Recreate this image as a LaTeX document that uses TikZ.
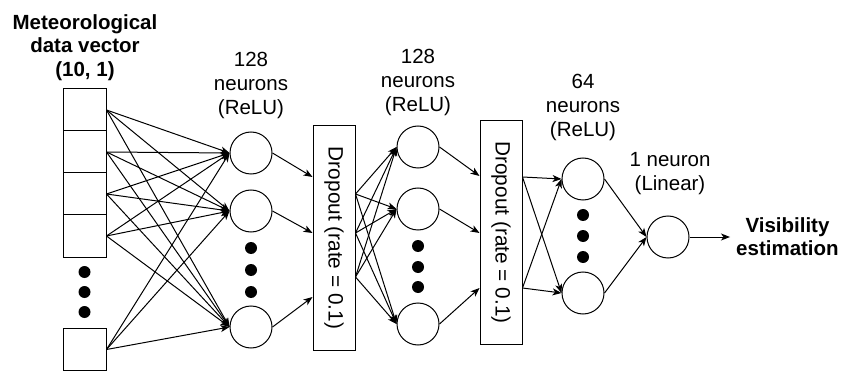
\documentclass[tikz,border=0pt]{standalone}
\usepackage{fontspec}
\setmainfont{Liberation Sans}
\usetikzlibrary{arrows.meta,calc}

\tikzset{
  neuron/.style={circle, draw, line width=1pt, minimum size=42pt, inner sep=0pt},
  cell/.style={rectangle, draw, line width=1pt, minimum width=43pt, minimum height=42pt, inner sep=0pt},
  dropbox/.style={rectangle, draw, line width=1pt, minimum width=42pt, minimum height=224pt, inner sep=0pt,
    font=\fontsize{20.8}{24}\selectfont},
  dot/.style={circle, fill, minimum size=12pt, inner sep=0pt},
  link/.style={line width=1pt, -{Stealth[length=9pt,width=7pt,inset=2.5pt]}},
  plain/.style={font=\fontsize{20.5}{24}\selectfont, align=center, inner sep=0pt, anchor=north},
  heading/.style={font=\bfseries\fontsize{20.5}{23.6}\selectfont, align=center, inner sep=0pt, anchor=north},
}

\begin{document}
\begin{tikzpicture}[x=1pt,y=-1pt]
\useasboundingbox (0,0) rectangle (842,371);

% input vector
\node[heading] (title) at (85,14) {Meteorological\\data vector\\(10, 1)};
\node[cell] (in1) at (84.5,110) {};
\node[cell] (in2) at (84.5,152) {};
\node[cell] (in3) at (84.5,194) {};
\node[cell] (in4) at (84.5,236) {};
\node[cell] (in5) at (84.5,349.5) {};
\node[dot] (ind1) at (84.5,272) {};
\node[dot] (ind2) at (84.5,292) {};
\node[dot] (ind3) at (84.5,312) {};

% first dense layer
\node[plain] (lab1) at (251,52.2) {128\\neurons\\(ReLU)};
\node[neuron] (c11) at (251,153) {};
\node[neuron] (c12) at (251,211) {};
\node[neuron] (c13) at (251,327) {};
\node[dot] (c1d1) at (251,248) {};
\node[dot] (c1d2) at (251,270) {};
\node[dot] (c1d3) at (251,292) {};

% first dropout
\node[dropbox] (d1) at (334,238) {\rotatebox{-90}{Dropout (rate = 0.1)}};

% second dense layer
\node[plain] (lab2) at (418,48.5) {128\\neurons\\(ReLU)};
\node[neuron] (c21) at (418,147) {};
\node[neuron] (c22) at (418,209) {};
\node[neuron] (c23) at (418,324) {};
\node[dot] (c2d1) at (418,246) {};
\node[dot] (c2d2) at (418,267) {};
\node[dot] (c2d3) at (418,287) {};

% second dropout
\node[dropbox, minimum height=223pt] (d2) at (501,232.5) {\rotatebox{-90}{Dropout (rate = 0.1)}};

% third dense layer
\node[plain] (lab3) at (583,73.5) {64\\neurons\\(ReLU)};
\node[neuron] (c31) at (583,179) {};
\node[neuron] (c32) at (583,293) {};
\node[dot] (c3d1) at (583,215) {};
\node[dot] (c3d2) at (583,236) {};
\node[dot] (c3d3) at (583,257) {};

% output neuron
\node[plain] (lab4) at (670,152) {1 neuron\\(Linear)};
\node[neuron] (out) at (668,237) {};
\coordinate (res) at (730,237);
\node[heading, anchor=west] (vis) at (736,236.5) {Visibility\\estimation};

% ports on the dropout boxes
\coordinate (d1i1) at ($(d1.west)+(0,-61)$);
\coordinate (d1i2) at ($(d1.west)+(0,-5)$);
\coordinate (d1i3) at ($(d1.west)+(0,59)$);
\coordinate (d1o1) at ($(d1.east)+(0,-44)$);
\coordinate (d1o2) at ($(d1.east)+(0,-5)$);
\coordinate (d1o3) at ($(d1.east)+(0,39)$);
\coordinate (d2i1) at ($(d2.west)+(0,-56.5)$);
\coordinate (d2i2) at ($(d2.west)+(0,0.5)$);
\coordinate (d2i3) at ($(d2.west)+(0,55.5)$);
\coordinate (d2o1) at ($(d2.east)+(0,-55.5)$);
\coordinate (d2o2) at ($(d2.east)+(0,55.5)$);

% connections
\foreach \s in {in1,in2,in3,in4,in5}
  \foreach \t in {c11,c12,c13}
    \draw[link] (\s.east) -- (\t.west);
\draw[link] (c11.east) -- (d1i1);
\draw[link] (c12.east) -- (d1i2);
\draw[link] (c13.east) -- (d1i3);
\foreach \s in {d1o1,d1o2,d1o3}
  \foreach \t in {c21,c22,c23}
    \draw[link] (\s) -- (\t.west);
\draw[link] (c21.east) -- (d2i1);
\draw[link] (c22.east) -- (d2i2);
\draw[link] (c23.east) -- (d2i3);
\foreach \s in {d2o1,d2o2}
  \foreach \t in {c31,c32}
    \draw[link] (\s) -- (\t.west);
\draw[link] (c31.east) -- (out.west);
\draw[link] (c32.east) -- (out.west);
\draw[link] (out.east) -- (res);
\end{tikzpicture}
\end{document}
